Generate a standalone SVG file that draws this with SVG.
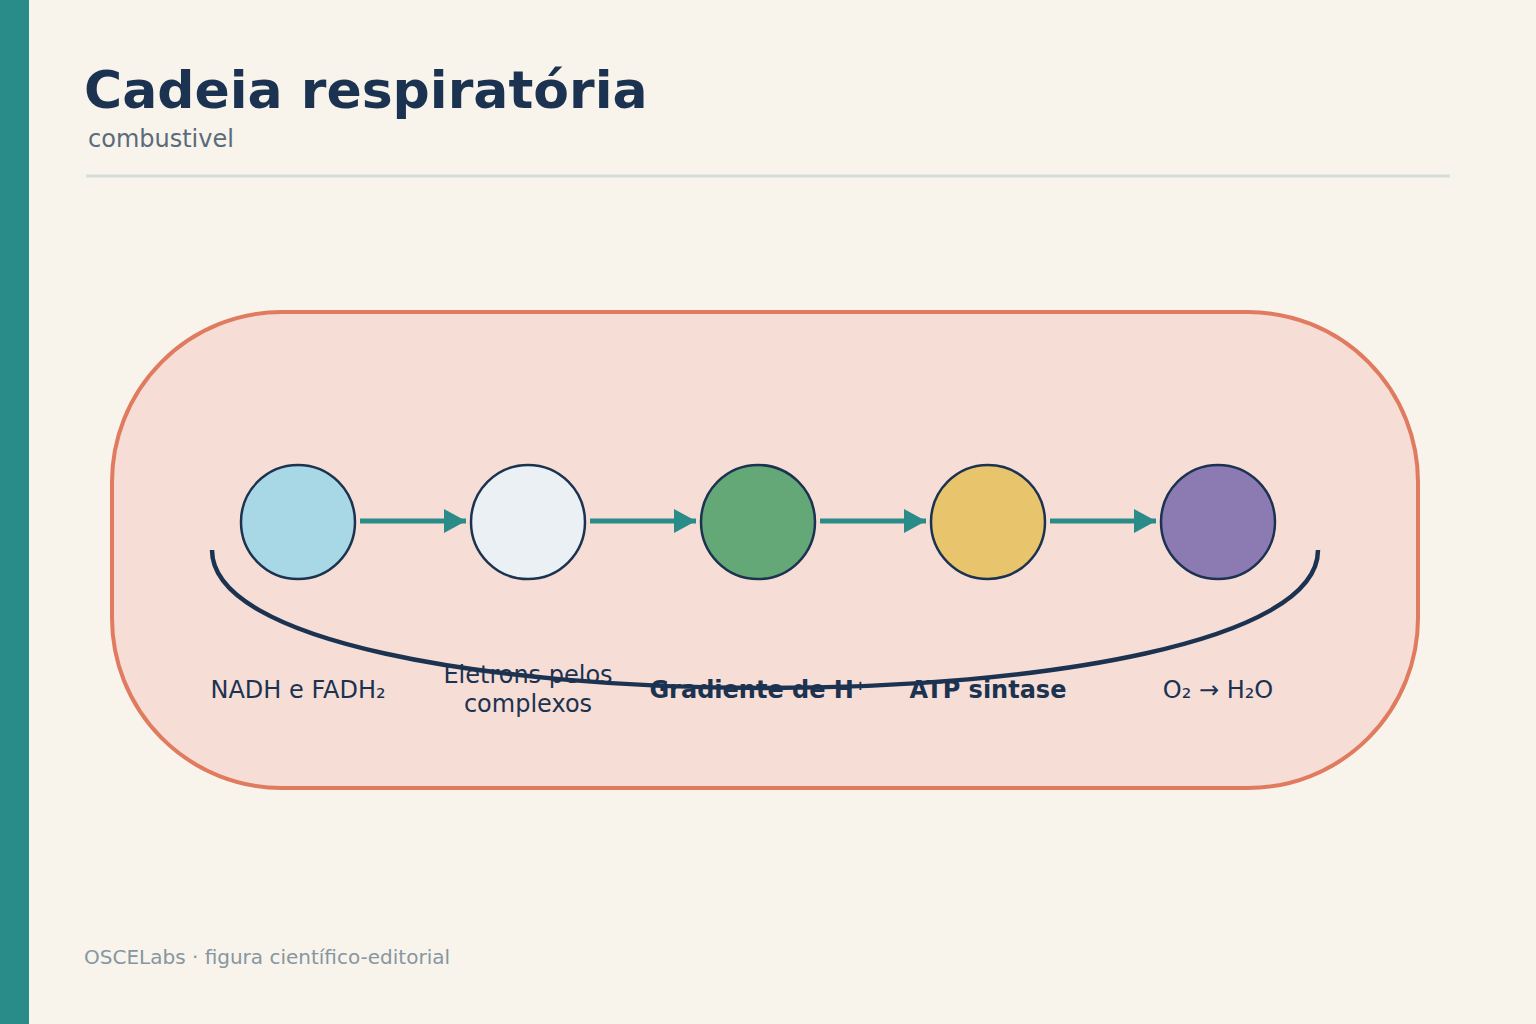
<svg xmlns="http://www.w3.org/2000/svg" width="1536" height="1024" viewBox="0 0 1536 1024">
<defs>
<style>
.t{font-family:"DejaVu Sans","Liberation Sans",sans-serif;fill:#1B3350}
.lbl{font-size:24px;text-anchor:middle}
.b{font-weight:bold}
.node circle{stroke:#1B3350;stroke-width:2.5}
.arr{stroke:#2A8C89;stroke-width:5;fill:none}
</style>
<marker id="ah" markerUnits="userSpaceOnUse" markerWidth="24" markerHeight="26" refX="22" refY="12" orient="auto">
<path d="M0,0 L22,12 L0,24 Z" fill="#2A8C89"/>
</marker>
</defs>
<rect width="1536" height="1024" fill="#F8F4EC"/>
<rect x="0" y="0" width="29" height="1024" fill="#2A8C89"/>
<text class="t b" x="84" y="108" font-size="52">Cadeia respiratória</text>
<text class="t" x="88" y="147" font-size="24" style="fill:#5A6B7B">combustivel</text>
<line x1="86" y1="176" x2="1450" y2="176" stroke="#D5DDDA" stroke-width="3"/>
<rect id="container" x="112" y="312" width="1306" height="476" rx="170" ry="170" fill="#F6DDD6" stroke="#E07B5F" stroke-width="4"/>
<g id="n1" class="node"><circle cx="298" cy="522" r="57" fill="#A8D8E6"/><text class="t lbl" x="298" y="698">NADH e FADH₂</text></g>
<g id="n2" class="node"><circle cx="528" cy="522" r="57" fill="#EAF0F3"/><text class="t lbl" x="528" y="683">Eletrons pelos</text><text class="t lbl" x="528" y="712">complexos</text></g>
<g id="n3" class="node"><circle cx="758" cy="522" r="57" fill="#64A878"/><text class="t lbl b" x="758" y="698">Gradiente de H⁺</text></g>
<g id="n4" class="node"><circle cx="988" cy="522" r="57" fill="#E8C46C"/><text class="t lbl b" x="988" y="698">ATP sintase</text></g>
<g id="n5" class="node"><circle cx="1218" cy="522" r="57" fill="#8C7BB3"/><text class="t lbl" x="1218" y="698">O₂ → H₂O</text></g>
<g id="connectors">
<line class="arr" x1="360" y1="521" x2="466" y2="521" marker-end="url(#ah)"/>
<line class="arr" x1="590" y1="521" x2="696" y2="521" marker-end="url(#ah)"/>
<line class="arr" x1="820" y1="521" x2="926" y2="521" marker-end="url(#ah)"/>
<line class="arr" x1="1050" y1="521" x2="1156" y2="521" marker-end="url(#ah)"/>
<path d="M212,550 C212,734 1318,734 1318,550" fill="none" stroke="#1B3350" stroke-width="4.5"/>
</g>
<text class="t" x="84" y="964" font-size="20" style="fill:#8796A0">OSCELabs · figura científico-editorial</text>
</svg>
